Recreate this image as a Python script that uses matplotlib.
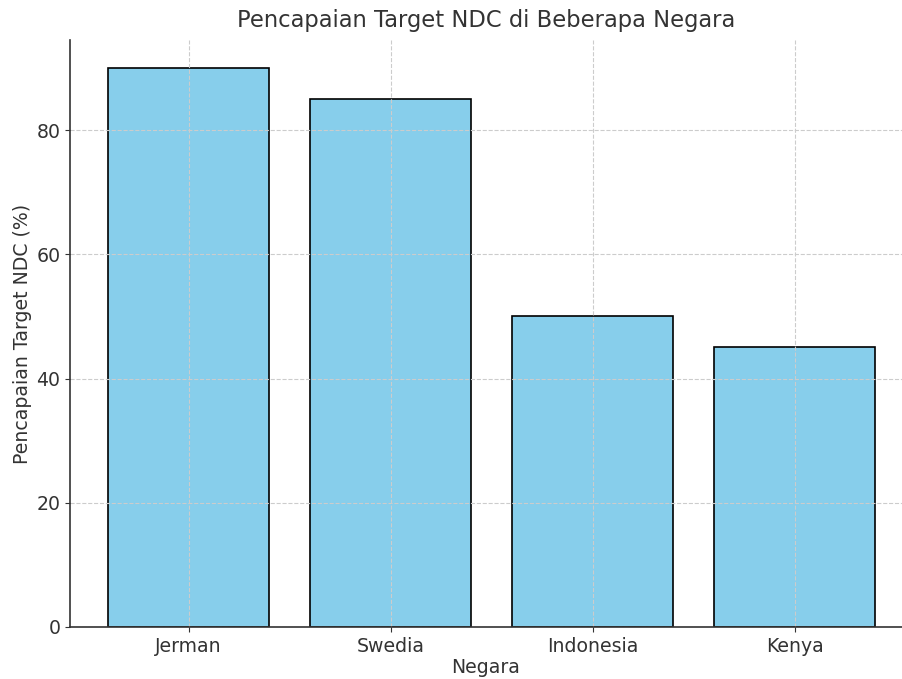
import matplotlib
matplotlib.use("Agg")
import matplotlib.pyplot as plt

negara = ["Jerman", "Swedia", "Indonesia", "Kenya"]
pencapaian = [90, 85, 50, 45]

plt.rcParams["font.family"] = ["DejaVu Sans"]
text_color = "#333333"

fig = plt.figure(figsize=(9.02, 6.79), dpi=100)
ax = fig.add_axes([0.0776, 0.0766, 0.9224, 0.8645])

ax.bar(negara, pencapaian, color="skyblue", edgecolor="black", width=0.8, linewidth=1.2)

ax.set_title("Pencapaian Target NDC di Beberapa Negara", fontsize=16.3, color=text_color, pad=9)
ax.set_xlabel("Negara", fontsize=13.6, color=text_color, labelpad=2)
ax.set_ylabel("Pencapaian Target NDC (%)", fontsize=13.6, color=text_color, labelpad=3)

ax.set_xlim(-0.587, 3.532)
ax.set_ylim(0, 94.5)
ax.set_yticks([0, 20, 40, 60, 80])
ax.tick_params(labelsize=13.6, colors=text_color)

ax.grid(True, linestyle="--", color="#cccccc", linewidth=0.8)
ax.spines["top"].set_visible(False)
ax.spines["right"].set_visible(False)
for s in ["left", "bottom"]:
    ax.spines[s].set_color(text_color)
    ax.spines[s].set_linewidth(1.2)

fig.savefig("out.png", dpi=100)
